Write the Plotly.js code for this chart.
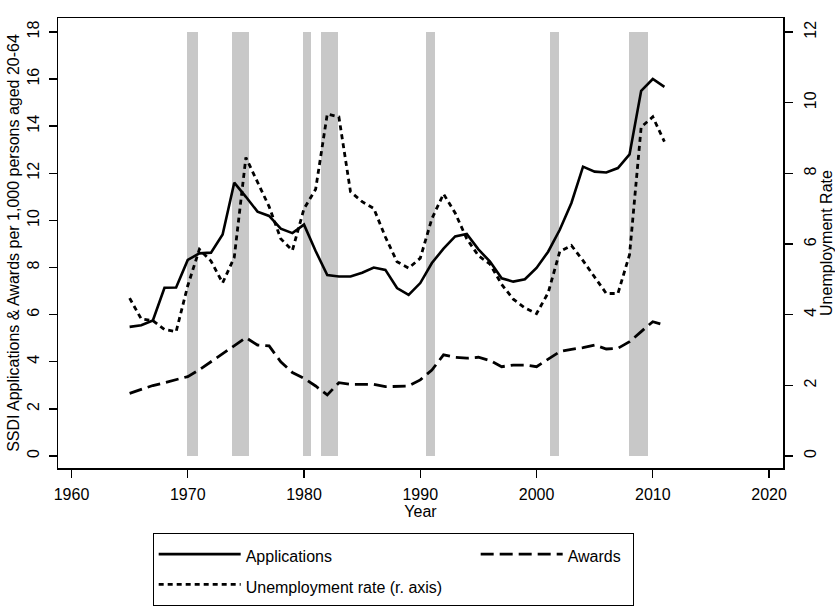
<!DOCTYPE html>
<html>
<head>
<meta charset="utf-8">
<script src="https://cdn.plot.ly/plotly-3.0.1.min.js"></script>
<style>html,body{margin:0;padding:0;background:#fff;}#chart{width:835px;height:607px;}</style>
</head>
<body>
<div id="chart"></div>
<script>
const years = [1965,1966,1967,1968,1969,1970,1971,1972,1973,1974,1975,1976,1977,1978,1979,
  1980,1981,1982,1983,1984,1985,1986,1987,1988,1989,1990,1991,1992,1993,1994,1995,1996,1997,
  1998,1999,2000,2001,2002,2003,2004,2005,2006,2007,2008,2009,2010,2011];
const applications = [5.48,5.55,5.75,7.14,7.15,8.32,8.6,8.63,9.4,11.6,11.0,10.37,10.19,9.65,9.46,
  9.82,8.7,7.68,7.62,7.62,7.78,8.0,7.9,7.13,6.84,7.34,8.19,8.8,9.32,9.42,8.77,8.25,7.54,
  7.4,7.5,7.98,8.67,9.6,10.74,12.28,12.07,12.03,12.22,12.8,15.5,16.0,15.67];
const awards = [2.66,2.84,2.99,3.11,3.24,3.37,3.66,4.0,4.34,4.68,5.02,4.71,4.67,4.0,3.54,
  3.3,2.97,2.59,3.11,3.04,3.04,3.04,2.94,2.94,2.97,3.23,3.65,4.29,4.19,4.15,4.19,4.05,3.79,
  3.86,3.86,3.79,4.1,4.43,4.53,4.6,4.71,4.54,4.57,4.85,5.28,5.7,5.56];
const unemployment = [4.47,3.88,3.83,3.58,3.52,4.82,5.85,5.52,4.9,5.62,8.45,7.73,7.06,6.15,5.82,
  7.0,7.55,9.68,9.6,7.48,7.2,7.01,6.2,5.5,5.32,5.6,6.72,7.42,6.88,6.15,5.67,5.43,4.86,
  4.44,4.19,4.03,4.62,5.79,5.96,5.53,5.08,4.6,4.6,5.7,9.31,9.6,8.9];
const recessionStart = [1969.93,1973.82,1979.95,1981.47,1990.47,2001.15,2007.94];
const recessionEnd   = [1970.87,1975.3,1980.63,1982.93,1991.3,2001.93,2009.55];
const recessionTop = 18;
const xTicks = [1960,1970,1980,1990,2000,2010,2020];
const yTicks = [0,2,4,6,8,10,12,14,16,18];
const y2Ticks = [0,2,4,6,8,10,12];
const seriesNames = ['Applications','Awards','Unemployment rate (r. axis)'];

const recMid = recessionStart.map((s,i)=> (s+recessionEnd[i])/2);
const recWidth = recessionStart.map((s,i)=> recessionEnd[i]-s);
const recHeight = recessionStart.map(()=> recessionTop);

const FONT = 'Liberation Sans, Arial, sans-serif';
const lg = n => '<span style="font-size:16px">' + n + '</span>';
const traces = [
  {type:'bar', x:recMid, y:recHeight, width:recWidth, base:0, yaxis:'y',
   marker:{color:'#c8c8c8', line:{width:0}}, showlegend:false, hoverinfo:'skip'},
  {type:'scatter', mode:'lines', name:lg(seriesNames[0]), x:years, y:applications, yaxis:'y',
   line:{color:'#000', width:2.6}, legendwidth:225},
  {type:'scatter', mode:'lines', name:lg(seriesNames[1]), x:years, y:awards, yaxis:'y',
   line:{color:'#000', width:2.8, dash:'13px,6px'}, legendwidth:60},
  {type:'scatter', mode:'lines', name:lg(seriesNames[2]), x:years, y:unemployment, yaxis:'y2',
   line:{color:'#000', width:2.8, dash:'5px,4px'}, legendwidth:212}
];
const axisCommon = {showgrid:false, zeroline:false, showline:true, linecolor:'#000', linewidth:1.5,
  ticks:'outside', ticklen:8, tickwidth:1.3, tickcolor:'#000',
  tickfont:{family:FONT, size:16, color:'#000'}};
const layout = {
  width:835, height:607,
  margin:{l:58, r:52, t:18, b:139, autoexpand:false},
  paper_bgcolor:'#fff', plot_bgcolor:'#fff',
  font:{family:FONT, size:16, color:'#000'},
  bargap:0,
  xaxis: Object.assign({}, axisCommon, {range:[1958.84,2021.2], tickvals:xTicks, mirror:true,
    ticklabelstandoff:3,
    title:{text:'Year', font:{family:FONT,size:16,color:'#000'}, standoff:2}}),
  yaxis: Object.assign({}, axisCommon, {range:[-0.51,18.59], tickvals:yTicks, tickangle:-90,
    ticklabelstandoff:3,
    title:{text:'SSDI Applications & Awards per 1,000 persons aged 20-64', font:{family:FONT,size:16,color:'#000'}, standoff:1}}),
  yaxis2: Object.assign({}, axisCommon, {range:[-0.34,12.4], tickvals:y2Ticks, tickangle:-90,
    overlaying:'y', side:'right', ticklabelstandoff:4,
    title:{text:'Unemployment Rate', font:{family:FONT,size:16,color:'#000'}, standoff:0}}),
  showlegend:true,
  legend:{orientation:'h', x:0.1306, xanchor:'left', y:-0.1444, yanchor:'top',
    bordercolor:'#000', borderwidth:1, bgcolor:'#fff',
    font:{family:FONT, size:21, color:'#000'},
    itemwidth:82, traceorder:'normal'}
};
Plotly.newPlot('chart', traces, layout, {staticPlot:true, displayModeBar:false});
</script>
</body>
</html>
